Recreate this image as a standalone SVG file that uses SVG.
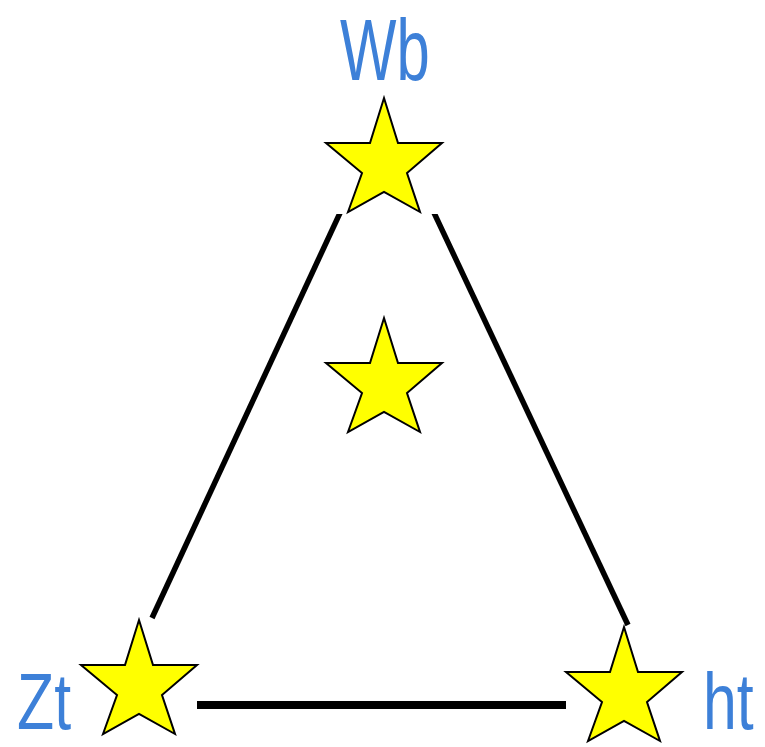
<svg xmlns="http://www.w3.org/2000/svg" width="765" height="747" viewBox="0 0 765 747">
<style>
.star{fill:#ffff00;stroke:#000;stroke-width:2;stroke-linejoin:miter}
.edge{stroke:#000;stroke-width:5.5;fill:none}
.lbl{font-family:"Liberation Sans",Arial,sans-serif;fill:#3d80d8}
</style>
<defs>
<polygon id="starShape" points="0,0 14,45 58,45 23,75 36,114 0,94 -36,114 -22,75 -58,45 -14,45"/>
<clipPath id="clipTop"><rect x="0" y="214" width="765" height="533"/></clipPath>
</defs>
<rect width="765" height="747" fill="#fff"/>
<g id="connectors" clip-path="url(#clipTop)">
<line class="edge" x1="346" y1="200" x2="152" y2="618"/>
<line class="edge" x1="428" y1="200" x2="628" y2="625"/>
<line class="edge" x1="197" y1="705" x2="566" y2="705" style="stroke-width:8"/>
</g>
<g id="node-wb">
<use href="#starShape" class="star" x="384" y="98"/>
<text class="lbl" font-size="88" transform="translate(340,80) scale(0.68,1)">Wb</text>
</g>
<g id="node-center">
<use href="#starShape" class="star" x="384" y="318"/>
</g>
<g id="node-zt">
<use href="#starShape" class="star" x="139" y="620"/>
<text class="lbl" font-size="80" transform="translate(17,729) scale(0.76,1)">Zt</text>
</g>
<g id="node-ht">
<use href="#starShape" class="star" x="624" y="627"/>
<text class="lbl" font-size="80" transform="translate(703,729) scale(0.76,1)">ht</text>
</g>
</svg>
